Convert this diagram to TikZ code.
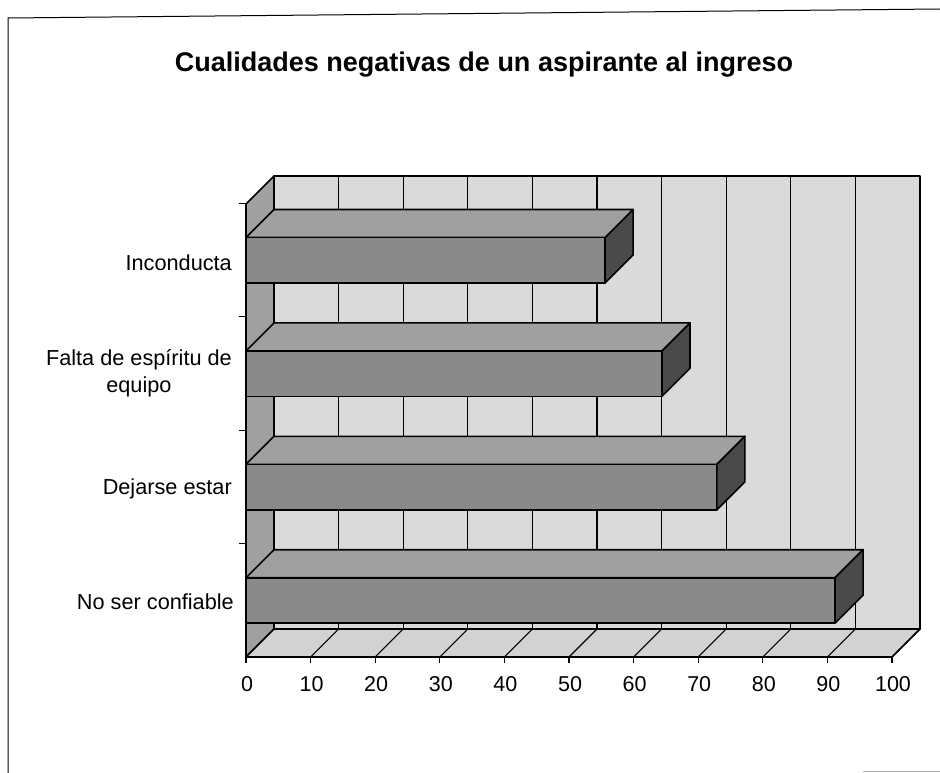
\documentclass[tikz,border=0pt]{standalone}
\usepackage{fontspec}
\setmainfont{Liberation Sans}
\usetikzlibrary{calc}
\definecolor{wallc}{HTML}{DADADA}
\definecolor{floorc}{HTML}{D2D2D2}
\definecolor{sidec}{HTML}{A0A0A0}
\definecolor{frontc}{HTML}{8A8A8A}
\definecolor{endc}{HTML}{4A4A4A}
\begin{document}
\begin{tikzpicture}[x=1pt,y=-1pt,
  gridline/.style={line width=1.1pt,black},
  faceline/.style={line width=1.6pt,black,line join=round},
  catlabel/.style={font=\fontsize{21.7}{27}\selectfont,anchor=east,align=center,inner sep=0pt},
  ticklabel/.style={font=\fontsize{21.5}{26}\selectfont,anchor=center,inner sep=0pt},
  titlelabel/.style={font=\fontsize{27}{32}\selectfont\bfseries,anchor=center,inner sep=0pt}]
\useasboundingbox (0,0) rectangle (940,773);
% outer frame
\draw[line width=1pt] (8,773) -- (8,18) -- (940,9);
\draw[line width=1pt,gray!60] (863,771) -- (940,771);
% title
\node[titlelabel] (title) at (484,65) {Cualidades negativas de un aspirante al ingreso};
% back wall
\draw[faceline,fill=wallc] (274,176) rectangle (920,629);
\foreach \k in {1,...,9}
  \draw[gridline] ({274+64.6*\k},176) -- ({274+64.6*\k},629);
% left wall
\draw[faceline,fill=sidec] (246,204) -- (274,176) -- (274,629) -- (246,657) -- cycle;
% floor
\draw[faceline,fill=floorc] (246,657) -- (274,629) -- (920,629) -- (892,657) -- cycle;
\foreach \k in {1,...,10}
  \draw[gridline] ({246+64.6*\k},657) -- ({274+64.6*\k},629);
% bars
\foreach \i/\v in {0/55.6,1/64.4,2/72.9,3/91.2}{
  \pgfmathsetmacro{\yt}{203.5+113.4*\i+56.7-22.7}
  \pgfmathsetmacro{\yb}{203.5+113.4*\i+56.7+22.7}
  \pgfmathsetmacro{\xr}{246+6.46*\v}
  \draw[faceline,fill=sidec] (246,\yt) -- (274,\yt-28) -- (\xr+28,\yt-28) -- (\xr,\yt) -- cycle;
  \draw[faceline,fill=frontc] (246,\yt) rectangle (\xr,\yb);
  \draw[faceline,fill=endc] (\xr,\yt) -- (\xr+28,\yt-28) -- (\xr+28,\yb-28) -- (\xr,\yb) -- cycle;
}
% axes
\draw[line width=1.3pt] (246,203) -- (246,657) -- (892,657);
\foreach \j in {0,...,3}
  \draw[line width=1.1pt] (239,{203.5+113.4*\j}) -- (246,{203.5+113.4*\j});
\foreach \k in {0,...,10}{
  \draw[line width=1.1pt] ({246+64.6*\k},657) -- ({246+64.6*\k},663);
  \pgfmathtruncatemacro{\lab}{10*\k}
  \node[ticklabel] (t\k) at ({247+64.6*\k},684) {\lab};
}
% category labels
\node[catlabel] (c1) at (232,263) {Inconducta};
\node[catlabel] (c2) at (232,373) {Falta de espíritu de\\equipo};
\node[catlabel] (c3) at (232,489) {Dejarse estar};
\node[catlabel] (c4) at (234,602) {No ser confiable};
\end{tikzpicture}
\end{document}
